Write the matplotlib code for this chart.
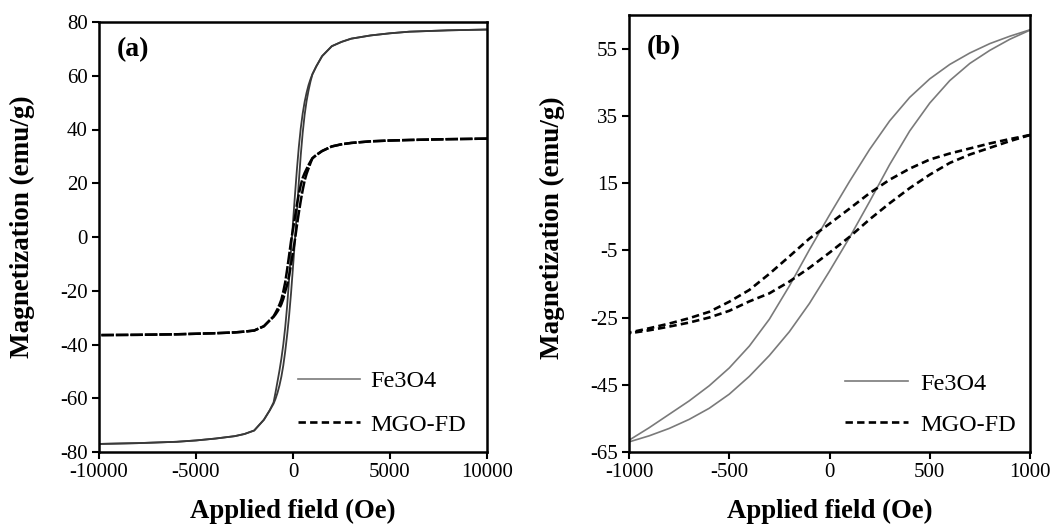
import matplotlib
matplotlib.use("Agg")
import matplotlib.pyplot as plt

# ---------------- data ----------------
# Panel (b): low-field loops, field step 100 Oe
field_b = [1000, 900, 800, 700, 600, 500, 400, 300, 200, 100, 0,
           -100, -200, -300, -400, -500, -600, -700, -800, -900, -1000]
# descending-field branches (from +1000 to -1000)
fe_desc = [60.6, 58.7, 56.5, 53.7, 50.3, 46.0, 40.5, 33.5, 25.0, 15.5, 5.5,
           -4.8, -15.6, -25.5, -33.5, -40.0, -45.3, -49.8, -53.8, -57.8, -61.5]
mgo_desc = [29.3, 28.1, 26.8, 25.3, 23.8, 22.0, 19.3, 16.0, 12.0, 7.4, 2.9,
            -1.5, -6.8, -12.0, -16.8, -20.3, -23.3, -25.2, -26.8, -28.2, -29.5]
# ascending-field branches (values at the same fields as field_b)
fe_asc = [60.5, 57.8, 54.5, 50.6, 45.5, 38.8, 30.5, 20.5, 9.5, -1.2, -11.2,
          -20.8, -29.2, -36.3, -42.5, -47.8, -52.0, -55.3, -58.0, -60.2, -62.0]
mgo_asc = [29.3, 27.5, 25.5, 23.5, 21.0, 17.5, 13.5, 9.0, 4.2, -1.0, -5.7,
           -10.2, -14.3, -17.8, -20.2, -23.0, -25.0, -26.5, -27.7, -28.8, -29.7]

# Panel (a): high-field tails added outside +/-1000 Oe
tail_pos_field = [10000, 8000, 6000, 5000, 4000, 3000, 2500, 2000, 1500, 1200]
tail_neg_field = [-1200, -1500, -2000, -2500, -3000, -4000, -5000, -6000, -8000, -10000]
fe_tail_pos = [77.2, 76.9, 76.4, 75.8, 75.0, 73.8, 72.6, 71.0, 67.3, 63.5]
fe_tail_neg = [-64.5, -68.0, -72.0, -73.3, -74.1, -75.0, -75.7, -76.2, -76.7, -77.0]
mgo_tail_pos = [36.6, 36.4, 36.1, 35.9, 35.6, 35.0, 34.5, 33.7, 32.0, 30.5]
mgo_tail_neg = [-31.0, -33.2, -34.8, -35.2, -35.5, -35.8, -36.0, -36.2, -36.4, -36.5]

series_names = ["Fe3O4", "MGO-FD"]
xticks_a = [-10000, -5000, 0, 5000, 10000]
yticks_a = [-80, -60, -40, -20, 0, 20, 40, 60, 80]
xticks_b = [-1000, -500, 0, 500, 1000]
yticks_b = [-65, -45, -25, -5, 15, 35, 55]

# ---------------- figure ----------------
plt.rcParams['font.family'] = ['Liberation Serif', 'DejaVu Serif']
plt.rcParams['axes.unicode_minus'] = False
fig = plt.figure(figsize=(10.62, 5.26), dpi=100)
ax_a = fig.add_axes([99/1062, 74/526, 388/1062, 430/526])
ax_b = fig.add_axes([629/1062, 74/526, 401/1062, 437/526])

fe_color = '#7a7a7a'
mgo_dash = (2.8, 1.6)

def full(tail_pos, mid, tail_neg):
    return list(tail_pos) + list(mid) + list(tail_neg)

field_a = full(tail_pos_field, field_b, tail_neg_field)
fe_a_desc = full(fe_tail_pos, fe_desc, fe_tail_neg)
fe_a_asc = full(fe_tail_pos, fe_asc, fe_tail_neg)
mgo_a_desc = full(mgo_tail_pos, mgo_desc, mgo_tail_neg)
mgo_a_asc = full(mgo_tail_pos, mgo_asc, mgo_tail_neg)

# panel (a)
ax_a.plot(field_a, fe_a_desc, color='#3a3a3a', lw=1.3)
ax_a.plot(field_a, fe_a_asc, color='#3a3a3a', lw=1.3)
ax_a.plot(field_a, mgo_a_desc, color='black', lw=1.8, linestyle=(0, (5, 0.8)))
ax_a.plot(field_a, mgo_a_asc, color='black', lw=1.8, linestyle=(0, (5, 0.8)))
ax_a.plot([], [], color=fe_color, lw=1.2, label=series_names[0])
ax_a.plot([], [], color='black', lw=1.9, dashes=mgo_dash, label=series_names[1])

# panel (b)
ax_b.plot(field_b, fe_desc, color=fe_color, lw=1.2, label=series_names[0])
ax_b.plot(field_b, fe_asc, color=fe_color, lw=1.2)
ax_b.plot(field_b, mgo_desc, color='black', lw=1.9, dashes=mgo_dash, label=series_names[1])
ax_b.plot(field_b, mgo_asc, color='black', lw=1.9, dashes=mgo_dash)

cfg = [
    (ax_a, xticks_a, yticks_a, (-10000, 10000), (-80, 80), '(a)', 0.935,
     (-0.165, 0.525), (0.5, -0.108), (0.513, 0.190), 0.89, 2.55, 0.42),
    (ax_b, xticks_b, yticks_b, (-1000, 1000), (-65, 65), '(b)', 0.925,
     (-0.16, 0.513), (0.5, -0.107), (0.539, 0.181), 0.77, 2.6, 0.5),
]
for (ax, xt, yt, xl, yl, tag, tagy, ylc, xlc, leg_xy, lsp, hl, htp) in cfg:
    ax.set_xlim(*xl)
    ax.set_ylim(*yl)
    ax.set_xticks(xt)
    ax.set_yticks(yt)
    ax.tick_params(direction='out', length=5, width=1.5, labelsize=15, pad=3)
    for s in ax.spines.values():
        s.set_linewidth(1.8)
    ax.set_xlabel('Applied field (Oe)', fontsize=19.3, fontweight='bold')
    ax.set_ylabel('Magnetization (emu/g)', fontsize=19.5, fontweight='bold')
    ax.yaxis.set_label_coords(*ylc)
    ax.xaxis.set_label_coords(*xlc)
    ax.text(0.045, tagy, tag, transform=ax.transAxes, fontsize=20,
            fontweight='bold', ha='left', va='center')
    ax.legend(loc='upper left', bbox_to_anchor=leg_xy, frameon=False,
              fontsize=17.5, handlelength=hl, labelspacing=lsp,
              handletextpad=htp, borderpad=0, borderaxespad=0)

fig.savefig('out.png', dpi=100)
